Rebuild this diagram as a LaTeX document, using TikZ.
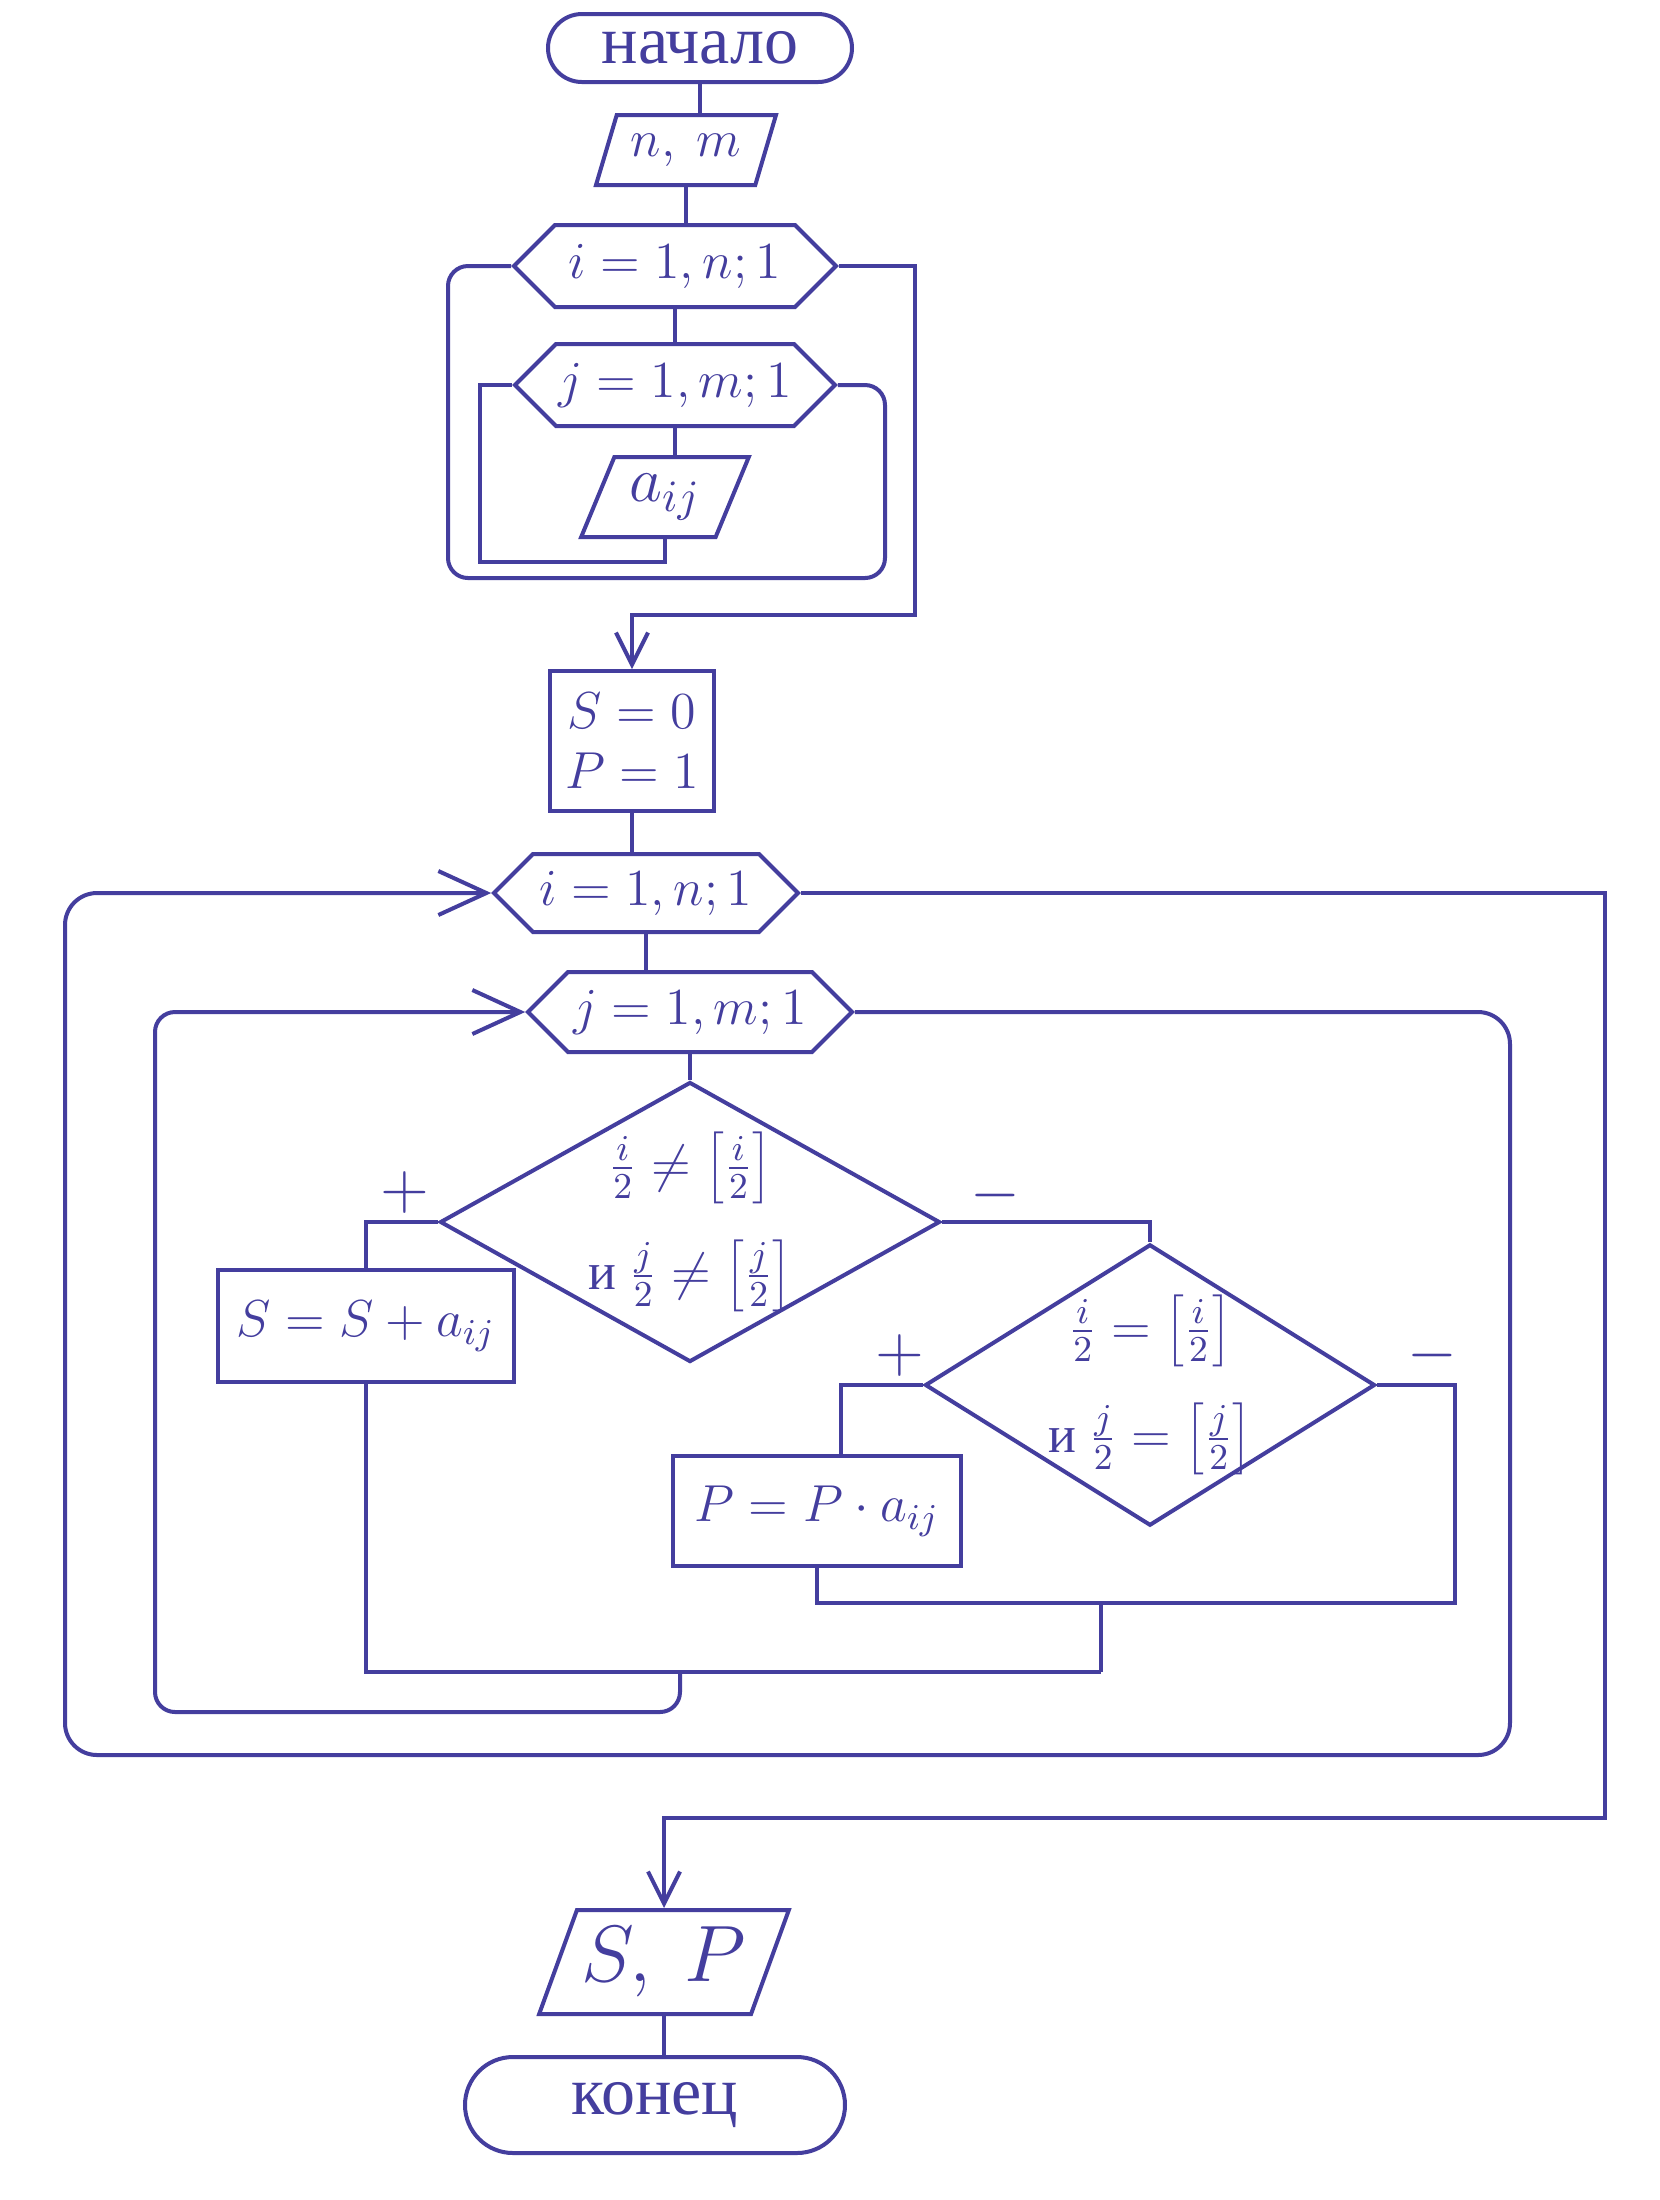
\RequirePackage{fix-cm}
\documentclass[tikz,border=0pt]{standalone}
\usepackage{fontspec}
\setmainfont{Liberation Serif}
\usetikzlibrary{shapes.geometric,shapes.misc,shapes.symbols,arrows.meta}
\definecolor{ink}{RGB}{68,62,158}
\begin{document}
\begin{tikzpicture}[x=0.25pt,y=-0.25pt,
  base/.style={draw=ink,line width=1pt,text=ink,inner sep=0pt,font=\fontsize{13}{16}\selectfont},
  term/.style={base,rounded rectangle,font=\fontsize{17}{20}\selectfont},
  io/.style={base,trapezium,trapezium left angle=63,trapezium right angle=117,trapezium stretches=true},
  loopx/.style={base,signal,signal to=east and west,signal pointer angle=90},
  proc/.style={base,rectangle,align=center},
  dec/.style={base,diamond,align=center,inner sep=-2pt},
  lab/.style={text=ink,font=\fontsize{16}{18}\selectfont},
  con/.style={draw=ink,line width=1pt},
  arr/.style={con,-{Straight Barb[length=8pt,width=8pt]}},
  bigarr/.style={con,-{Straight Barb[length=12pt,width=11pt]}}
]
\fill[white] (0,0) rectangle (1660,2200);
% nodes
\node[term,minimum width=76pt,minimum height=17pt] (start) at (700,48) {начало};
\node[io,minimum width=45pt,minimum height=17.5pt] (in1) at (686,150) {$n,\ m$};
\node[loopx,minimum width=80.5pt,minimum height=20.5pt] (L1) at (675,266) {$i=1,n;1$};
\node[loopx,minimum width=80pt,minimum height=20.5pt] (L2) at (675,385) {$j=1,m;1$};
\node[io,minimum width=42pt,minimum height=20pt,font=\fontsize{16}{18}\selectfont] (rd) at (665,497) {$a_{ij}$};
\node[proc,minimum width=41pt,minimum height=35pt] (init) at (632,741) {$S=0$\\[-1pt]$P=1$};
\node[loopx,minimum width=76pt,minimum height=19.5pt] (L3) at (646,893) {$i=1,n;1$};
\node[loopx,minimum width=81pt,minimum height=20pt] (L4) at (690,1012) {$j=1,m;1$};
\node[dec,aspect=1.8,minimum width=125pt,minimum height=70pt] (d1) at (690,1222)
  {$\frac{i}{2}\neq\left[\frac{i}{2}\right]$\\[8pt]и\ $\frac{j}{2}\neq\left[\frac{j}{2}\right]$};
\node[proc,minimum width=74pt,minimum height=28pt] (sb) at (366,1326) {$S=S+a_{ij}$};
\node[dec,aspect=1.6,minimum width=109pt,minimum height=69pt] (d2) at (1150,1385)
  {$\frac{i}{2}=\left[\frac{i}{2}\right]$\\[8pt]и\ $\frac{j}{2}=\left[\frac{j}{2}\right]$};
\node[proc,minimum width=72pt,minimum height=27.5pt] (pb) at (817,1511) {$P=P\cdot a_{ij}$};
\node[io,minimum width=62.5pt,minimum height=26pt,font=\fontsize{20}{24}\selectfont] (out) at (664,1962) {$S,\ P$};
\node[term,minimum width=95pt,minimum height=24pt] (end) at (655,2105) {конец};
% branch labels
\node[lab] (p1) at (405,1192) {$+$};
\node[lab] (m1) at (995,1195) {$-$};
\node[lab] (p2) at (900,1355) {$+$};
\node[lab] (m2) at (1432,1355) {$-$};
% connectors
\draw[con] (start.south) -- (start.south |- in1.north);
\draw[con] (in1.south) -- (in1.south |- L1.north);
\draw[con] (L1.south) -- (L2.north);
\draw[con] (L2.south) -- (L2.south |- rd.north);
\coordinate (a1) at (480,562);
\draw[con] (rd.south) |- (a1) |- (L2.west);
\coordinate (b1) at (885,578);
\coordinate (b2) at (448,578);
\draw[con,rounded corners=5pt] (L2.east) -| (b1) -- (b2) |- (L1.west);
\coordinate (c1) at (915,615);
\draw[arr] (L1.east) -| (c1) -| (init.north);
\draw[con] (init.south) -- (init.south |- L3.north);
\draw[con] (L3.south) -- (L3.south |- L4.north);
\draw[con] (L4.south) -- (d1.north);
\draw[con] (d1.west) -| (sb.north);
\draw[con] (d1.east) -| (d2.north);
\draw[con] (d2.west) -| ([xshift=6pt]pb.north);
\coordinate (e1) at (1455,1603);
\draw[con] (d2.east) -| (e1) -- (pb.south |- e1) -- (pb.south);
\coordinate (e2) at (1101,1603);
\coordinate (e3) at (1101,1672);
\draw[con] (e2) -- (e3);
\draw[con] (sb.south) |- (e3);
\coordinate (f1) at (680,1672);
\coordinate (f2) at (155,1712);
\draw[bigarr,rounded corners=5pt] (f1) |- (f2) |- (L4.west);
\coordinate (g1) at (1510,1755);
\coordinate (g2) at (65,1755);
\draw[bigarr,rounded corners=8pt] (L4.east) -| (g1) -- (g2) |- (L3.west);
\coordinate (h1) at (1605,1818);
\draw[arr] (L3.east) -| (h1) -| (out.north);
\draw[con] (out.south) -- (out.south |- end.north);
\end{tikzpicture}
\end{document}
